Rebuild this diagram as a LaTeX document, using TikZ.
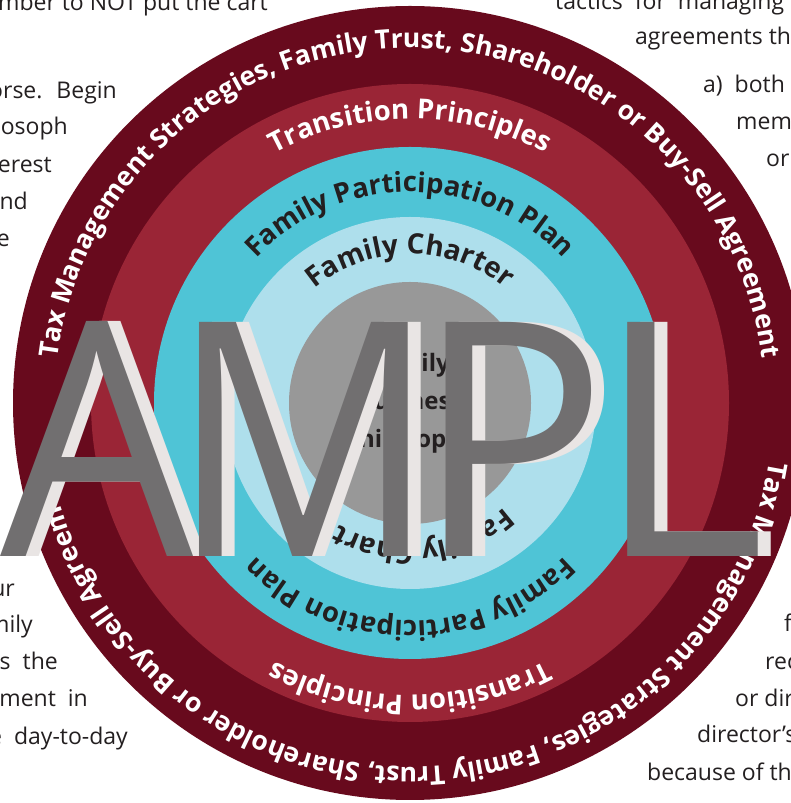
\documentclass[tikz,border=0pt]{standalone}
\usepackage{fontspec}
\setmainfont{Open Sans}
\usetikzlibrary{decorations.text}

\definecolor{wine}{HTML}{680A1D}
\definecolor{claret}{HTML}{9A2536}
\definecolor{aqua}{HTML}{4FC4D6}
\definecolor{paleblue}{HTML}{AEDFEC}
\definecolor{core}{HTML}{989898}
\definecolor{logogray}{HTML}{716F70}
\definecolor{logoshade}{HTML}{E9E5E4}
\definecolor{ink}{HTML}{231F20}

\tikzset{
  bodytext/.style={inner sep=0pt, text=ink, font=\fontsize{23}{23}\selectfont},
  logo/.style={inner sep=0pt, outer sep=0pt, anchor=base west, font=\fontsize{328}{328}\selectfont},
}

% one ring label: along the top half, then again round the bottom half
\newcommand\ringlabel[5]{% top radius, bottom radius, size, colour, text
  \path[decorate, decoration={text along path, text align=center, text color=#4,
      text={|\fontsize{#3}{#3}\selectfont\bfseries|#5}}]
    (O) ++(180:#1) arc (180:0:#1);
  \path[decorate, decoration={text along path, text align=center, text color=#4,
      text={|\fontsize{#3}{#3}\selectfont\bfseries|#5}}]
    (O) ++(0:#2) arc (0:-180:#2);
}

\begin{document}
\begin{tikzpicture}[x=1pt, y=1pt]
  \useasboundingbox (0,0) rectangle (791,803);
  \clip (0,0) rectangle (791,803);
  \coordinate (O) at (410,400);

  % rings, outside in
  \fill[wine] (O) circle (397);
  \fill[claret] (O) circle (319);
  \fill[aqua] (O) circle (256);
  \fill[paleblue] (O) circle (186);
  \fill[core] (O) circle (121);

  \ringlabel{355}{364}{26.5}{white}{Tax Management Strategies, Family Trust, Shareholder or Buy-Sell Agreement}
  \ringlabel{284}{292}{27.5}{white}{Transition Principles}
  \ringlabel{211}{218}{27.5}{ink}{Family Participation Plan}
  \ringlabel{149}{141}{28}{ink}{Family Charter}

  \node[align=center, text=ink, font=\fontsize{24}{38}\selectfont\bfseries] (philosophy) at (O)
    {Family\\Business\\Philosophy};

  % AMPL, with a pale copy shifted right behind each letter
  \foreach \ch/\x/\s in {A/0/0.93, M/170/0.9, P/414/0.98, L/595/1} {
    \node[logo, text=logoshade, xscale=\s] at (\x+13,246) {\ch};
    \node[logo, text=logogray, xscale=\s] (\ch) at (\x,246) {\ch};
  }

  % page text running round the figure
  \node[bodytext, anchor=base east] (l1) at (268,792) {mber to NOT put the cart};
  \node[bodytext, anchor=base east] (l2) at (117,704) {orse.~ Begin};
  \node[bodytext, anchor=base east] (l3) at (68,668) {osoph};
  \node[bodytext, anchor=base east] (l4) at (52,630) {erest};
  \node[bodytext, anchor=base east] (l5) at (28,593) {nd};
  \node[bodytext, anchor=base east] (l6) at (10,556) {e};
  \node[bodytext, anchor=base east] (l7) at (15,206) {ur};
  \node[bodytext, anchor=base east] (l8) at (33,170) {mily};
  \node[bodytext, anchor=base east] (l9) at (58,133) {s~ the};
  \node[bodytext, anchor=base east] (l10) at (88,96) {ment~ in};
  \node[bodytext, anchor=base east] (l11) at (128,58) {e~ day-to-day};

  \node[bodytext, anchor=base west] (r1) at (555,793) {tactics~ for~ managing};
  \node[bodytext, anchor=base west] (r2) at (635,758) {agreements th};
  \node[bodytext, anchor=base west] (r3) at (703,710) {a)~ both};
  \node[bodytext, anchor=base west] (r4) at (736,673) {mem};
  \node[bodytext, anchor=base west] (r5) at (766,636) {or};
  \node[bodytext, anchor=base west] (r6) at (784,171) {f};
  \node[bodytext, anchor=base west] (r7) at (765,133) {rec};
  \node[bodytext, anchor=base west] (r8) at (735,96) {or dir};
  \node[bodytext, anchor=base west] (r9) at (697,60) {director’s};
  \node[bodytext, anchor=base west] (r10) at (647,23) {because of th};
\end{tikzpicture}
\end{document}
